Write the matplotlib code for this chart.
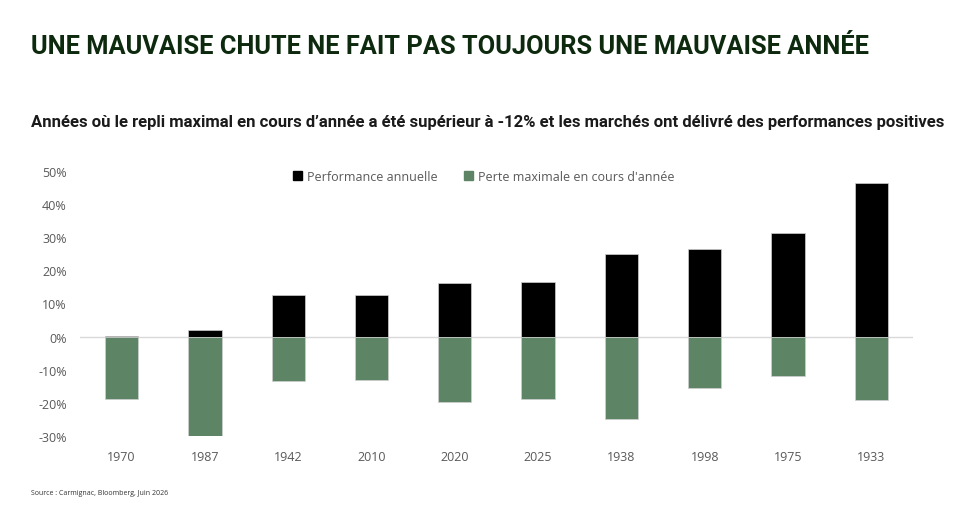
import matplotlib
matplotlib.use('Agg')
import matplotlib.pyplot as plt
from matplotlib.patches import Patch

# data
years = ['1970', '1987', '1942', '2010', '2020', '2025', '1938', '1998', '1975', '1933']
perf_annuelle = [0.2, 1.9, 12.4, 12.6, 16.0, 16.3, 25.0, 26.5, 31.3, 46.1]
perte_max = [-18.7, -29.9, -13.4, -13.1, -19.7, -18.7, -24.8, -15.5, -11.9, -19.2]
yticks = [-30, -20, -10, 0, 10, 20, 30, 40, 50]

title = 'UNE MAUVAISE CHUTE NE FAIT PAS TOUJOURS UNE MAUVAISE ANNÉE'
subtitle = ("Années où le repli maximal en cours d’année a été supérieur à -12% "
            "et les marchés ont délivré des performances positives")
source = 'Source : Carmignac, Bloomberg, Juin 2026'

dark_green = '#0d2a0f'
green = '#5d8465'
grey = '#595959'

plt.rcParams['font.family'] = ['Open Sans', 'DejaVu Sans']

fig = plt.figure(figsize=(9.58, 5.06), dpi=100)
ax = fig.add_axes([0.0835, 0.136, 0.8695, 0.525])

x = range(len(years))
ax.bar(x, perf_annuelle, width=0.4, color='black', edgecolor='#cfcfcf', linewidth=0.5)
ax.bar(x, perte_max, width=0.4, color=green, edgecolor='#cfcfcf', linewidth=0.5)
ax.axhline(0, color='#d9d9d9', linewidth=1, zorder=0)

ax.set_xlim(-0.5, len(years) - 0.5)
ax.set_ylim(-30, 50)
ax.set_yticks(yticks)
ax.set_yticklabels([f'{t}%' for t in yticks])
ax.set_xticks(list(x))
ax.set_xticklabels(years)
ax.tick_params(axis='both', length=0, colors=grey, labelsize=9)
ax.tick_params(axis='y', pad=9.5)
ax.tick_params(axis='x', pad=10)
for s in ax.spines.values():
    s.set_visible(False)

handles = [Patch(color='black', label='Performance annuelle'),
           Patch(color=green, label="Perte maximale en cours d'année")]
leg = ax.legend(handles=handles, loc='upper left', bbox_to_anchor=(0.2425, 1.045),
                ncol=2, frameon=False, fontsize=9, handlelength=0.7, handleheight=0.7,
                handletextpad=0.4, columnspacing=2.1)
for t in leg.get_texts():
    t.set_color(grey)

t1 = fig.text(0.032, 0.907, title, family='Roboto', weight='bold', fontsize=20,
              color=dark_green, va='center')
t2 = fig.text(0.032, 0.757, subtitle, family='Roboto', weight='bold', fontsize=11,
              color='#1a1a1a', va='center')
fig.text(0.032, 0.024, source, fontsize=5, color='#333333', va='center')

# shrink the two headings so they span the same width as in the reference
fig.canvas.draw()
r = fig.canvas.get_renderer()
for t, target in [(t1, 835), (t2, 917)]:
    w = t.get_window_extent(r).width
    t.set_fontsize(t.get_fontsize() * target / w)

fig.savefig('out.png', dpi=100)
